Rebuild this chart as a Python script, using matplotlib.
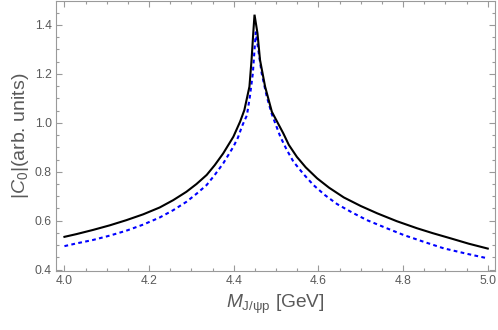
import matplotlib
matplotlib.use("Agg")
import matplotlib.pyplot as plt
from matplotlib.ticker import MultipleLocator

# Solid black curve, |C_0| vs M_{J/psi p}
black_x = [4.0, 4.028, 4.067, 4.107, 4.146, 4.186, 4.225, 4.257, 4.288, 4.312,
           4.336, 4.355, 4.375, 4.399, 4.415, 4.425, 4.431, 4.437, 4.442, 4.446,
           4.449,
           4.456, 4.462, 4.474, 4.490, 4.517, 4.530, 4.549, 4.570, 4.597, 4.625,
           4.660, 4.700, 4.739, 4.785, 4.833, 4.870, 4.912, 4.955, 5.0]
black_y = [0.534, 0.545, 0.562, 0.581, 0.602, 0.626, 0.654, 0.684, 0.718, 0.750,
           0.787, 0.827, 0.875, 0.943, 1.005, 1.052, 1.100, 1.148, 1.257, 1.366,
           1.442,
           1.366, 1.257, 1.148, 1.045, 0.957, 0.910, 0.861, 0.818, 0.773, 0.735,
           0.695, 0.660, 0.630, 0.598, 0.569, 0.549, 0.528, 0.506, 0.486]

# Dotted blue curve
blue_x = [4.0, 4.028, 4.067, 4.107, 4.146, 4.186, 4.225, 4.257, 4.288, 4.312,
          4.336, 4.355, 4.375, 4.399, 4.410, 4.419, 4.426, 4.431, 4.438, 4.445,
          4.449, 4.452,
          4.458, 4.466, 4.478, 4.490, 4.510, 4.525, 4.541, 4.565, 4.588, 4.615,
          4.644, 4.680, 4.715, 4.760, 4.802, 4.850, 4.896, 4.950, 5.0]
blue_y = [0.496, 0.507, 0.521, 0.539, 0.559, 0.584, 0.613, 0.643, 0.677, 0.710,
          0.746, 0.787, 0.834, 0.902, 0.940, 0.984, 1.012, 1.030, 1.107, 1.202,
          1.298, 1.370,
          1.298, 1.202, 1.107, 1.035, 0.943, 0.890, 0.841, 0.790, 0.746, 0.705,
          0.668, 0.633, 0.602, 0.570, 0.541, 0.513, 0.487, 0.465, 0.446]

x_ticks = [4.0, 4.2, 4.4, 4.6, 4.8, 5.0]
y_ticks = [0.4, 0.6, 0.8, 1.0, 1.2, 1.4]

_FRAME = "#9a9a9a"
_LABEL = "#5a5a5a"

plt.rcParams["font.family"] = ["Liberation Sans", "DejaVu Sans"]
plt.rcParams["mathtext.fontset"] = "custom"
plt.rcParams["mathtext.rm"] = "Liberation Sans"
plt.rcParams["mathtext.it"] = "Liberation Sans:italic"

fig = plt.figure(figsize=(4.98, 3.30), dpi=100)
ax = fig.add_axes([0.1124, 0.180, 0.8815, 0.817])

ax.plot(black_x, black_y, color="black", lw=1.5, solid_joinstyle="miter", zorder=3)
ax.plot(blue_x, blue_y, color="#0000ff", lw=1.5, dashes=(1.8, 1.6), zorder=2)

ax.set_xlim(3.98, 5.017)
ax.set_ylim(0.396, 1.498)

ax.set_xticks(x_ticks)
ax.set_yticks(y_ticks)
ax.xaxis.set_minor_locator(MultipleLocator(0.05))
ax.yaxis.set_minor_locator(MultipleLocator(0.05))
ax.tick_params(which="both", direction="in", top=True, right=True,
               color=_FRAME, width=0.8, labelcolor=_LABEL, labelsize=8.7)
ax.tick_params(which="major", length=4, pad=3)
ax.tick_params(which="minor", length=2.2)
for s in ax.spines.values():
    s.set_color(_FRAME)
    s.set_linewidth(0.8)

ax.set_xlabel(r"$M_{\mathrm{J/\psi p}}$ [GeV]", fontsize=13.8, color=_LABEL, labelpad=4)
ax.set_ylabel(r"$|C_0|$(arb. units)", fontsize=14, color=_LABEL, labelpad=3)

fig.savefig("out.png", dpi=100)
